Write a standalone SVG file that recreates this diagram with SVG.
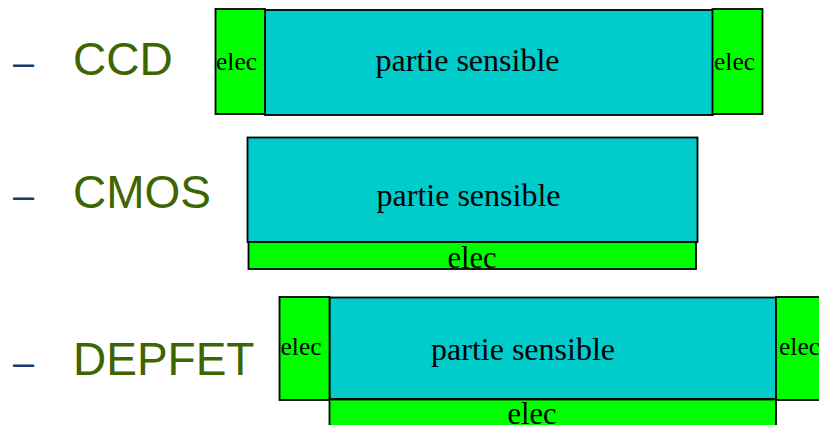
<svg xmlns="http://www.w3.org/2000/svg" width="819" height="425" viewBox="0 0 819 425">
<style>
.sens{fill:#00CCCC;stroke:#000;stroke-width:1.8}
.elec{fill:#00FF00;stroke:#000;stroke-width:1.8}
.t{font-family:"Liberation Serif","Times New Roman",serif;fill:#000}
.lab{font-family:"Liberation Sans",Arial,sans-serif;font-size:46px;fill:#3D6600}
.dash{font-family:"Liberation Sans",Arial,sans-serif;font-size:38px;fill:#1B3C73}
</style>
<rect width="819" height="425" fill="#fff"/>
<g id="ccd">
  <text class="dash" x="13" y="76">–</text>
  <text class="lab" x="73" y="75">CCD</text>
  <rect class="sens" x="265" y="10" width="448" height="105"/>
  <rect class="elec" x="215.5" y="9" width="49.5" height="105"/>
  <rect class="elec" x="712.5" y="9" width="50" height="105"/>
  <text class="t" x="216" y="70" font-size="25.5">elec</text>
  <text class="t" x="714" y="70" font-size="25.5">elec</text>
  <text class="t" x="467.5" y="71" font-size="32" text-anchor="middle">partie sensible</text>
</g>
<g id="cmos">
  <text class="dash" x="13" y="209">–</text>
  <text class="lab" x="73" y="208">CMOS</text>
  <rect class="sens" x="247.5" y="137.5" width="450" height="104.5"/>
  <rect class="elec" x="248.5" y="242" width="447.5" height="27"/>
  <text class="t" x="468.5" y="206" font-size="32" text-anchor="middle">partie sensible</text>
  <text class="t" x="472" y="268" font-size="30.5" text-anchor="middle">elec</text>
</g>
<g id="depfet">
  <text class="dash" x="13" y="376">–</text>
  <text class="lab" x="73" y="375">DEPFET</text>
  <rect class="sens" x="329.5" y="297.5" width="446.5" height="101.5"/>
  <rect class="elec" x="279.5" y="297" width="50" height="103"/>
  <rect class="elec" x="776" y="297" width="50" height="103"/>
  <rect class="elec" x="329.5" y="399.5" width="446.5" height="30"/>
  <text class="t" x="280.5" y="355" font-size="25.5">elec</text>
  <text class="t" x="779" y="355" font-size="25.5">elec</text>
  <text class="t" x="523" y="360" font-size="32" text-anchor="middle">partie sensible</text>
  <text class="t" x="532" y="424" font-size="30.5" text-anchor="middle">elec</text>
</g>
<g id="connectors"></g>
</svg>
